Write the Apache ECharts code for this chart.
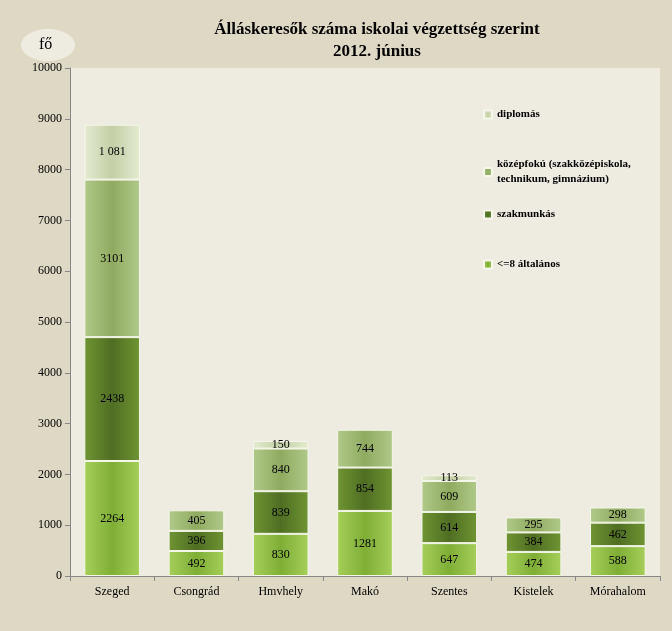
<!DOCTYPE html><html><head><meta charset="utf-8"><script src="https://cdn.jsdelivr.net/npm/echarts@6/dist/echarts.min.js"></script></head><body style="margin:0"><div id="c" style="width:672px;height:631px"></div><script>
const categories=['Szeged','Csongrád','Hmvhely','Makó','Szentes','Kistelek','Mórahalom'];
const alt8=[2264,492,830,1281,647,474,588];
const szak=[2438,396,839,854,614,384,462];
const kozep=[3101,405,840,744,609,295,298];
const dipl=[1081,0,150,0,113,0,0];
const names=['<=8 általános','szakmunkás','középfokú (szakközépiskola, technikum, gimnázium)','diplomás'];
const colors=[['#a6cf5a','#7fae35'],['#6f9433','#4f6e22'],['#b0c98a','#8fab5f'],['#e4ebd0','#c3cfa6']];
const data=[alt8,szak,kozep,dipl];
const c=echarts.init(document.getElementById('c'));
const font='"Liberation Serif", "Times New Roman", serif';
const legendTops=[252,202,152,102];
c.setOption({
backgroundColor:'#ded9c4',
textStyle:{fontFamily:font},
title:{text:'Álláskeresők száma iskolai végzettség szerint\n2012. június',left:372,top:14,textAlign:'center',textStyle:{fontSize:17,fontWeight:'bold',color:'#000',lineHeight:22,fontFamily:font}},
graphic:[{type:'ellipse',shape:{cx:48,cy:45,rx:27,ry:16},style:{fill:'#eeebe0'}},{type:'text',left:39,top:37,style:{text:'fő',font:'16px '+font,fill:'#000'}}],
legend:names.map((n,i)=>({data:[n],left:478,top:legendTops[i],itemWidth:8,itemHeight:8,icon:'rect',
 formatter:x=>x.startsWith('középfokú')?'középfokú (szakközépiskola,\ntechnikum, gimnázium)':x,
 textStyle:{fontSize:11,fontWeight:'bold',color:'#000',fontFamily:font,lineHeight:15}})),
grid:{left:70,right:12,top:68,bottom:55,backgroundColor:'#eeebe0',show:true,borderWidth:0},
xAxis:{type:'category',data:categories,axisLine:{lineStyle:{color:'#888'}},axisTick:{show:true,lineStyle:{color:'#888'}},axisLabel:{color:'#000',fontSize:12,fontFamily:font,margin:10}},
yAxis:{type:'value',min:0,max:10000,interval:1000,axisLine:{show:true,lineStyle:{color:'#888'}},axisTick:{show:true,lineStyle:{color:'#888'}},splitLine:{show:false},axisLabel:{color:'#000',fontSize:12,fontFamily:font,formatter:v=>String(v)}},
series:data.map((d,i)=>({name:names[i],type:'bar',stack:'a',barWidth:'66%',data:d.map(v=>v||null),
 itemStyle:{color:new echarts.graphic.LinearGradient(0,0,1,0,[{offset:0,color:colors[i][0]},{offset:0.5,color:colors[i][1]},{offset:1,color:colors[i][0]}]),borderColor:'#f4f7ea',borderWidth:1},
 label:{show:true,position:'inside',color:'#000',fontSize:12,fontFamily:font,formatter:p=>p.value===1081?'1 081':String(p.value)}}))
});
</script></body></html>
